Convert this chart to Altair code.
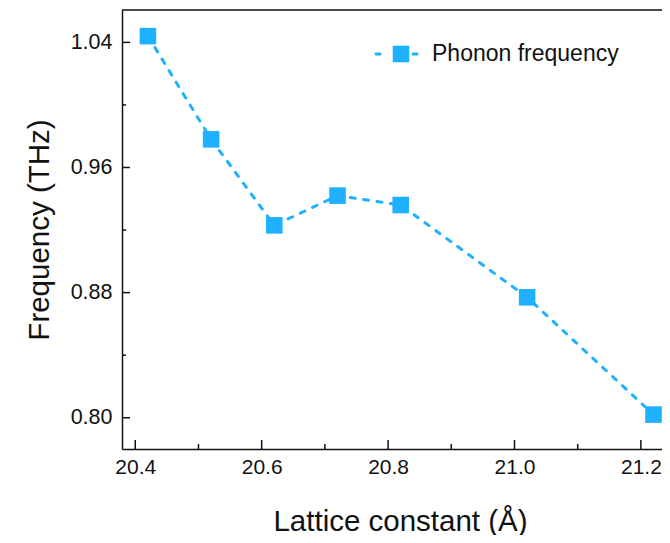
import altair as alt
import pandas as pd

# ---- data ----
lattice = [20.42, 20.52, 20.62, 20.72, 20.82, 21.02, 21.22]
frequency = [1.044, 0.978, 0.923, 0.942, 0.936, 0.877, 0.802]
x_major = [20.4, 20.6, 20.8, 21.0, 21.2]
x_minor = [20.5, 20.7, 20.9, 21.1]
y_major = [0.80, 0.88, 0.96, 1.04]
y_minor = [0.84, 0.92, 1.00]
series_name = ["Phonon frequency"]

# ---- layout / style ----
W, H = 540, 439
X_DOMAIN = [20.379, 21.2334]
Y_DOMAIN = [0.78, 1.0607]
COLOR = "#1FB1FF"
FONT = "Liberation Sans"
INK = "#111111"

df = pd.DataFrame({"x": lattice, "y": frequency})
xs = alt.Scale(domain=X_DOMAIN, nice=False, zero=False)
ys = alt.Scale(domain=Y_DOMAIN, nice=False, zero=False)

x_axis = alt.Axis(values=x_major, format=".1f", ticks=False, tickSize=0,
                  labelFontSize=21, labelPadding=7, labelColor=INK,
                  title="Lattice constant (Å)", titleFontSize=29.5,
                  titleFontWeight="normal", titleColor=INK,
                  titleX=278, titleY=81, titleBaseline="alphabetic",
                  domainColor=INK, domainWidth=1.5, grid=False, labelFlush=False)
y_axis = alt.Axis(values=y_major, format=".2f", ticks=False, tickSize=0,
                  labelFontSize=21.5, labelPadding=10, labelColor=INK,
                  title="Frequency (THz)", titleFontSize=29.5,
                  titleFontWeight="normal", titleColor=INK,
                  titleX=-74, titleY=H / 2, titleBaseline="alphabetic",
                  domainColor=INK, domainWidth=1.5, grid=False)

base = alt.Chart(df)
line = base.mark_line(color=COLOR, strokeWidth=3, strokeDash=[5, 8.5],
                      strokeCap="round").encode(
    x=alt.X("x:Q", scale=xs, axis=x_axis),
    y=alt.Y("y:Q", scale=ys, axis=y_axis),
)
points = base.mark_point(shape="square", filled=True, size=275, color=COLOR,
                         opacity=1).encode(x=alt.X("x:Q", scale=xs), y=alt.Y("y:Q", scale=ys))

# inward ticks
def xticks(vals, length):
    return alt.Chart(pd.DataFrame({"v": vals})).mark_rule(color=INK, strokeWidth=1.5).encode(
        x=alt.X("v:Q", scale=xs), y=alt.value(H), y2=alt.value(H - length))

def yticks(vals, length):
    return alt.Chart(pd.DataFrame({"v": vals})).mark_rule(color=INK, strokeWidth=1.5).encode(
        y=alt.Y("v:Q", scale=ys), x=alt.value(0), x2=alt.value(length))

top_border = alt.Chart(pd.DataFrame({"a": [0]})).mark_rule(color=INK, strokeWidth=1.5).encode(
    x=alt.value(0), x2=alt.value(W), y=alt.value(0))

# legend
leg = alt.Chart(pd.DataFrame({"label": series_name}))
LY = 44
leg_dash1 = leg.mark_rule(color=COLOR, strokeWidth=3, strokeCap="round").encode(
    x=alt.value(254), x2=alt.value(258), y=alt.value(LY))
leg_dash2 = leg.mark_rule(color=COLOR, strokeWidth=3, strokeCap="round").encode(
    x=alt.value(291), x2=alt.value(295), y=alt.value(LY))
leg_sq = leg.mark_point(shape="square", filled=True, size=275, color=COLOR, opacity=1).encode(
    x=alt.value(279), y=alt.value(LY))
leg_txt = leg.mark_text(align="left", baseline="middle", fontSize=23, font=FONT,
                        color=INK).encode(x=alt.value(310), y=alt.value(LY), text="label:N")

chart = alt.layer(
    line, points,
    xticks(x_major, 9), xticks(x_minor, 5), yticks(y_major, 8), yticks(y_minor, 4),
    top_border, leg_dash1, leg_dash2, leg_sq, leg_txt,
).properties(
    width=W, height=H,
    autosize=alt.AutoSizeParams(type="none"),
    padding={"left": 114, "top": 2, "right": 0, "bottom": 86},
).configure_view(stroke=None).configure_axis(labelFont=FONT, titleFont=FONT)

chart.save("out.html", embed_options={"renderer": "svg", "actions": False})
